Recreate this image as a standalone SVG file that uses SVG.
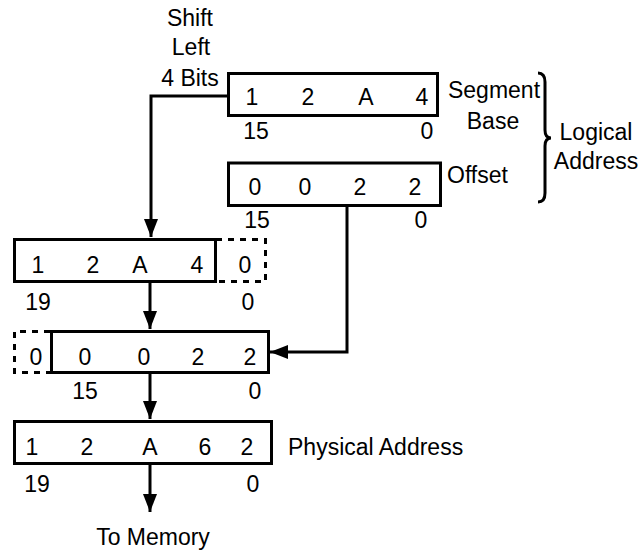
<svg xmlns="http://www.w3.org/2000/svg" width="639" height="552" viewBox="0 0 639 552">
<style>
text{font-family:"Liberation Sans",Arial,sans-serif;font-size:23px;fill:#000;text-anchor:middle}
.s{text-anchor:start}
.box{fill:#fff;stroke:#000;stroke-width:3}
.dash{fill:none;stroke:#000;stroke-width:3;stroke-dasharray:6 6}
.wire{fill:none;stroke:#000;stroke-width:3}
</style>
<defs>
<marker id="ah" markerUnits="userSpaceOnUse" markerWidth="18" markerHeight="14" refX="18" refY="7" orient="auto">
<path d="M0,0 L18,7 L0,14 z" fill="#000"/>
</marker>
</defs>
<g id="connectors">
<polyline class="wire" points="228,96 151,96 151,237" marker-end="url(#ah)"/>
<line class="wire" x1="150" y1="283" x2="150" y2="329" marker-end="url(#ah)"/>
<polyline class="wire" points="347,206 347,352 270,352" marker-end="url(#ah)"/>
<line class="wire" x1="150" y1="374" x2="150" y2="419" marker-end="url(#ah)"/>
<line class="wire" x1="150" y1="465" x2="150" y2="512" marker-end="url(#ah)"/>
</g>
<g id="shift-label">
<text x="190" y="26">Shift</text>
<text x="191" y="55">Left</text>
<text x="190" y="86">4 Bits</text>
</g>
<g id="segment-base">
<rect class="box" x="228.5" y="73.5" width="209" height="42"/>
<text x="252" y="105">1</text>
<text x="308" y="105">2</text>
<text x="366" y="105">A</text>
<text x="422" y="105">4</text>
<text x="256" y="139">15</text>
<text x="427" y="139">0</text>
<text x="494" y="98">Segment</text>
<text x="493" y="129">Base</text>
</g>
<g id="offset">
<rect class="box" x="228.5" y="163" width="212" height="42.5"/>
<text x="255" y="195">0</text>
<text x="305" y="195">0</text>
<text x="360" y="195">2</text>
<text x="415" y="195">2</text>
<text x="257" y="228">15</text>
<text x="421" y="228">0</text>
<text class="s" x="447" y="183">Offset</text>
</g>
<g id="logical-address">
<path class="wire" stroke-width="2.5" d="M538,73 Q545,73 545,82 L545,130 Q545,138 551,138 Q545,138 545,146 L545,193 Q545,202 538,202"/>
<text x="596" y="140">Logical</text>
<text x="596" y="169">Address</text>
</g>
<g id="shifted-base">
<rect class="box" x="14.5" y="239.5" width="201" height="42"/>
<path class="dash" d="M216,239.5 H265.5 V281.5 H216"/>
<text x="38" y="273">1</text>
<text x="93" y="273">2</text>
<text x="140" y="273">A</text>
<text x="197" y="273">4</text>
<text x="245" y="273">0</text>
<text x="38" y="310">19</text>
<text x="248" y="310">0</text>
</g>
<g id="offset-aligned">
<rect class="box" x="51.5" y="331.5" width="217" height="41"/>
<path class="dash" d="M50,331.5 H14.5 V372.5 H50"/>
<text x="36" y="365">0</text>
<text x="85" y="365">0</text>
<text x="144" y="365">0</text>
<text x="198" y="365">2</text>
<text x="250" y="365">2</text>
<text x="85" y="399">15</text>
<text x="255" y="399">0</text>
</g>
<g id="physical-address">
<rect class="box" x="14.5" y="421.5" width="257" height="42"/>
<text x="32" y="455">1</text>
<text x="87" y="455">2</text>
<text x="150" y="455">A</text>
<text x="205" y="455">6</text>
<text x="247" y="455">2</text>
<text x="37" y="492">19</text>
<text x="253" y="492">0</text>
<text class="s" x="288" y="455">Physical Address</text>
</g>
<g id="to-memory">
<text x="153" y="545">To Memory</text>
</g>
</svg>
